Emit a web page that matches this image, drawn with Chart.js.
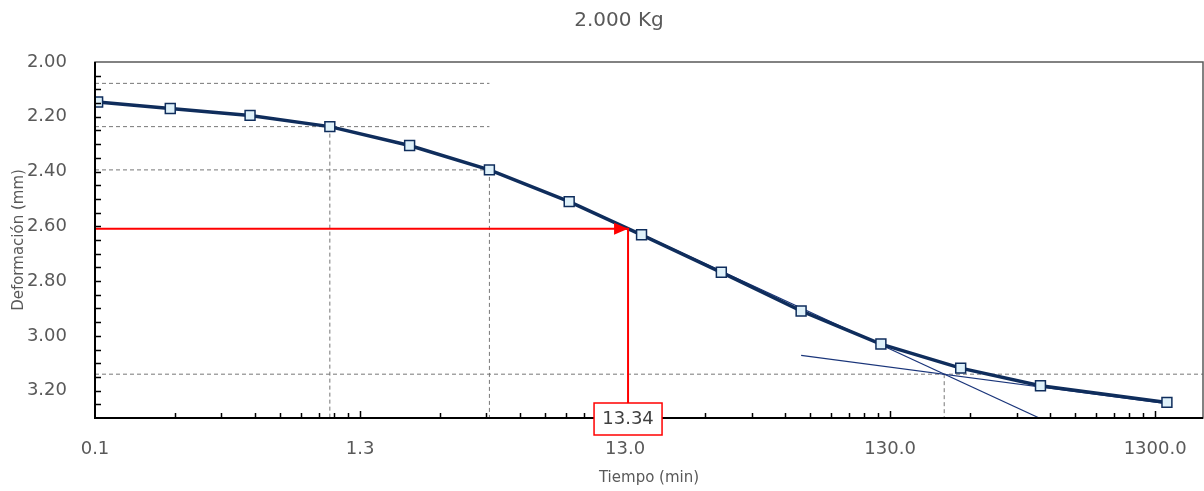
<!DOCTYPE html>
<html>
<head>
<meta charset="utf-8">
<script src="https://cdn.jsdelivr.net/npm/chart.js@4/dist/chart.umd.min.js"></script>
<style>
  html, body { margin: 0; padding: 0; background: #fff; }
  #wrap { width: 1204px; height: 491px; }
</style>
</head>
<body>
<div id="wrap"><canvas id="grafico"></canvas></div>
<script>
// lecturas del ensayo, carga de 2.000 Kg
const tiempos = [0.133, 0.25, 0.5, 1, 2, 4, 8, 15, 30, 60, 120, 240, 480, 1440];
const deformaciones = [2.146, 2.170, 2.195, 2.236, 2.305, 2.394, 2.510, 2.631, 2.768, 2.909, 3.030, 3.118, 3.182, 3.243];

const ticksX = [0.13, 1.3, 13, 130, 1300];
const ticksY = [2.0, 2.2, 2.4, 2.6, 2.8, 3.0, 3.2];
const minX = 0.13, maxX = 1970;
const minY = 2.0, maxY = 3.3;

// construccion de Casagrande
const t1 = 1, t4 = 4;
const d0 = 2.078;
const d1 = 2.236;
const d4 = 2.394;
const d100 = 3.14;
const t100 = 208;
const d50 = 2.609;
const t50 = 13.34;

// tangentes (tramo final y punto de inflexion)
const tangFinalT = [60, 1440];
const tangFinalD = [3.071, 3.248];
const tangCentralT = [15, 475];
const tangCentralD = [2.629, 3.30];

const azul = '#0f2d5c';
const gris = '#595959';

const pares = (xs, ys) => xs.map((x, i) => ({ x: x, y: ys[i] }));

const linea = (data, color, ancho, dash, orden) => ({
  data: data,
  showLine: true,
  borderColor: color,
  borderWidth: ancho,
  borderDash: dash,
  pointRadius: 0,
  pointHoverRadius: 0,
  tension: 0,
  order: orden
});

// marcas interiores de los ejes, marco y textos sueltos
const extras = {
  id: 'extras',
  afterDatasetsDraw(chart) {
    const ctx = chart.ctx;
    const a = chart.chartArea;
    const sx = chart.scales.x, sy = chart.scales.y;
    ctx.save();

    // flecha roja
    const px = sx.getPixelForValue(t50), py = sy.getPixelForValue(d50);
    ctx.fillStyle = '#ff0000';
    ctx.beginPath();
    ctx.moveTo(px, py);
    ctx.lineTo(px - 14, py - 6);
    ctx.lineTo(px - 14, py + 6);
    ctx.closePath();
    ctx.fill();

    // marco
    ctx.strokeStyle = gris;
    ctx.lineWidth = 1.5;
    ctx.strokeRect(a.left, a.top, a.right - a.left, a.bottom - a.top);
    ctx.strokeStyle = '#000';
    ctx.lineWidth = 2;
    ctx.beginPath();
    ctx.moveTo(a.left, a.top);
    ctx.lineTo(a.left, a.bottom);
    ctx.lineTo(a.right, a.bottom);
    ctx.stroke();

    // marcas del eje y cada 0.05
    ctx.lineWidth = 1.5;
    ctx.beginPath();
    for (let v = minY + 0.05; v < maxY - 0.001; v += 0.05) {
      const y = Math.round(sy.getPixelForValue(v)) + 0.5;
      ctx.moveTo(a.left, y);
      ctx.lineTo(a.left + 6, y);
    }
    // marcas logaritmicas del eje x
    for (let dec = minX; dec < maxX; dec *= 10) {
      for (let k = 1; k < 10; k++) {
        const v = dec * k;
        if (v <= minX || v >= maxX) continue;
        const x = Math.round(sx.getPixelForValue(v)) + 0.5;
        ctx.moveTo(x, a.bottom);
        ctx.lineTo(x, a.bottom - (k === 1 ? 7 : 5));
      }
    }
    ctx.stroke();

    // recuadro con t50
    const w = 68, h = 32;
    ctx.fillStyle = '#fff';
    ctx.fillRect(px - w / 2, a.bottom - 15, w, h);
    ctx.strokeStyle = '#ff0000';
    ctx.lineWidth = 1.5;
    ctx.strokeRect(px - w / 2, a.bottom - 15, w, h);
    ctx.fillStyle = '#404040';
    ctx.font = '18px "DejaVu Sans"';
    ctx.textAlign = 'center';
    ctx.textBaseline = 'middle';
    ctx.fillText(t50.toFixed(2), px, a.bottom + 1);

    // titulo
    ctx.fillStyle = gris;
    ctx.font = '20px "DejaVu Sans"';
    ctx.fillText('2.000 Kg', 619, 21);
    ctx.restore();
  }
};

const chart = new Chart(document.getElementById('grafico'), {
  type: 'scatter',
  data: {
    datasets: [
      {
        data: pares(tiempos, deformaciones),
        showLine: true,
        borderColor: azul,
        borderWidth: 3.5,
        pointStyle: 'rect',
        pointRadius: 7,
        pointBackgroundColor: '#dff1fa',
        pointBorderColor: azul,
        pointBorderWidth: 1.5,
        tension: 0,
        order: 1
      },
      linea(pares(tangFinalT, tangFinalD), '#1a357a', 1.2, [], 2),
      linea(pares(tangCentralT, tangCentralD), '#1a357a', 1.2, [], 2),
      linea(pares([minX, t4], [d0, d0]), '#777', 1, [4, 3], 3),
      linea(pares([minX, t4], [d1, d1]), '#777', 1, [4, 3], 3),
      linea(pares([minX, t4], [d4, d4]), '#777', 1, [4, 3], 3),
      linea(pares([t1, t1], [d1, maxY]), '#777', 1, [4, 3], 3),
      linea(pares([t4, t4], [d4, maxY]), '#777', 1, [4, 3], 3),
      linea(pares([minX, maxX], [d100, d100]), '#777', 1, [4, 3], 3),
      linea(pares([t100, t100], [d100, maxY]), '#777', 1, [4, 3], 3),
      linea(pares([minX, t50, t50], [d50, d50, maxY]), '#ff0000', 2, [], 0)
    ]
  },
  options: {
    responsive: true,
    maintainAspectRatio: false,
    animation: false,
    layout: { autoPadding: false, padding: { top: 62, right: 1, left: 0, bottom: 0 } },
    plugins: {
      legend: { display: false },
      tooltip: { enabled: false }
    },
    scales: {
      x: {
        type: 'logarithmic',
        min: minX,
        max: maxX,
        grid: { display: false },
        border: { display: false },
        afterBuildTicks: (s) => { s.ticks = ticksX.map(v => ({ value: v })); },
        afterFit: (s) => { s.height = 73; s.paddingLeft = 0; s.paddingRight = 0; },
        ticks: {
          autoSkip: false,
          maxRotation: 0,
          padding: 13,
          color: gris,
          font: { family: 'DejaVu Sans', size: 18 },
          callback: (v) => Number(v).toFixed(1)
        },
        title: {
          display: true,
          text: 'Tiempo (min)',
          color: gris,
          font: { family: 'DejaVu Sans', size: 15 },
          padding: { top: 0, bottom: 4 }
        }
      },
      y: {
        type: 'linear',
        reverse: true,
        min: minY,
        max: maxY,
        grid: { display: false },
        border: { display: false },
        afterBuildTicks: (s) => { s.ticks = ticksY.map(v => ({ value: v })); },
        afterFit: (s) => { s.width = 95; s.paddingTop = 0; s.paddingBottom = 0; },
        ticks: {
          padding: 20,
          color: gris,
          font: { family: 'DejaVu Sans', size: 18 },
          callback: (v) => Number(v).toFixed(2)
        },
        title: {
          display: true,
          text: 'Deformación (mm)',
          color: gris,
          font: { family: 'DejaVu Sans', size: 15 },
          padding: { top: 10, bottom: 0 }
        }
      }
    }
  },
  plugins: [extras]
});
</script>
</body>
</html>
